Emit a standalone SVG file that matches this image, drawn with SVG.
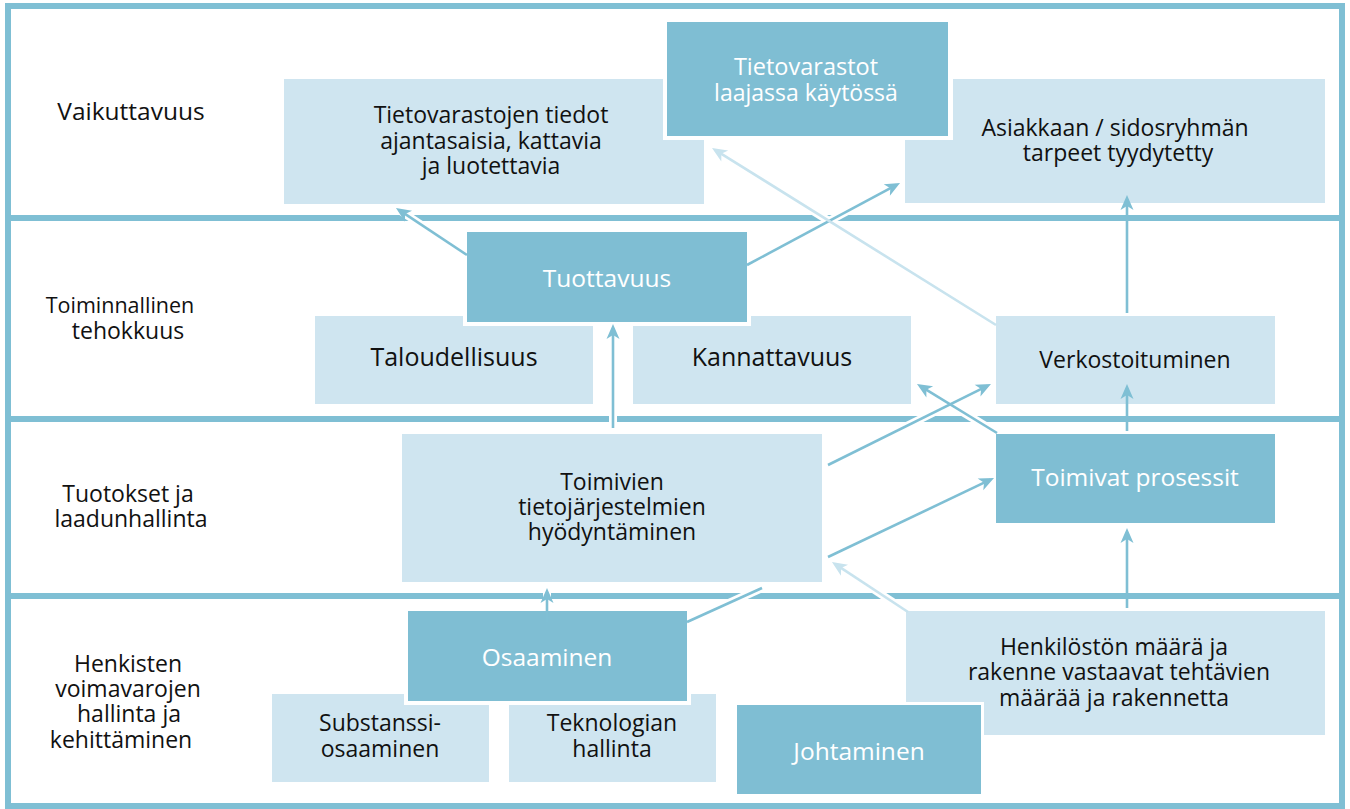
<svg xmlns="http://www.w3.org/2000/svg" width="1350" height="809" viewBox="0 0 1350 809">
<style>
.frame{fill:none;stroke:#7fbfd4;stroke-width:6}
.div{fill:#7fbfd4}
.light{fill:#cfe5f0}
.dark{fill:#7fbed3}
.halo-b{fill:#ffffff}
.t{font-family:"Open Sans","Noto Sans",sans-serif;font-size:23px;fill:#111111;text-anchor:middle}
.w{fill:#ffffff;font-size:24.5px}
.big{font-size:25px}
.halo{stroke:#ffffff;stroke-width:8;fill:none}
.ln{stroke:#7fbfd4;stroke-width:2.6;fill:none}
.lnl{stroke:#c8e3ee;stroke-width:2.6;fill:none}
</style>
<defs>
<marker id="ah" markerUnits="userSpaceOnUse" viewBox="-13 -8 18 16" refX="0" refY="0" markerWidth="18" markerHeight="16" orient="auto">
<path d="M4,0 L-11,-6.5 L-7,0 L-11,6.5 Z" fill="#7fbfd4"/>
</marker>
<marker id="ahl" markerUnits="userSpaceOnUse" viewBox="-13 -8 18 16" refX="0" refY="0" markerWidth="18" markerHeight="16" orient="auto">
<path d="M4,0 L-11,-6.5 L-7,0 L-11,6.5 Z" fill="#c8e3ee"/>
</marker>
</defs>
<rect width="1350" height="809" fill="#ffffff"/>
<g id="frame">
<rect class="frame" x="8" y="6" width="1334" height="800"/>
<rect class="div" x="8" y="215" width="1334" height="6"/>
<rect class="div" x="8" y="416" width="1334" height="6"/>
<rect class="div" x="8" y="593" width="1334" height="6"/>
</g>
<g id="halos">
<line class="halo" x1="467" y1="255" x2="399" y2="210"/>
<line class="halo" x1="747" y1="265" x2="896" y2="185"/>
<line class="halo" x1="996" y1="325" x2="715" y2="150"/>
<line class="halo" x1="613" y1="428" x2="613" y2="328"/>
<line class="halo" x1="828" y1="465" x2="987" y2="386"/>
<line class="halo" x1="997" y1="433" x2="920" y2="386"/>
<line class="halo" x1="828" y1="557" x2="990" y2="480"/>
<line class="halo" x1="908" y1="612" x2="835" y2="564"/>
<line class="halo" x1="687" y1="622" x2="762" y2="588"/>
<line class="halo" x1="547" y1="622" x2="547" y2="592"/>
</g>
<g id="lanes">
<text class="t" x="131" y="120" style="font-size:24.5px">Vaikuttavuus</text>
<text class="t" x="120" y="313" style="font-size:21.5px">Toiminnallinen</text>
<text class="t" x="128" y="339">tehokkuus</text>
<text class="t" x="128" y="502">Tuotokset ja</text>
<text class="t" x="131" y="527">laadunhallinta</text>
<text class="t" x="128" y="672">Henkisten</text>
<text class="t" x="128" y="697">voimavarojen</text>
<text class="t" x="129" y="722">hallinta ja</text>
<text class="t" x="121" y="748">kehittäminen</text>
</g>
<g id="n-tietovarastojen">
<rect class="light" x="284" y="79" width="420" height="125"/>
<text class="t" x="491" y="123">Tietovarastojen tiedot</text>
<text class="t" x="491" y="149">ajantasaisia, kattavia</text>
<text class="t" x="491" y="174">ja luotettavia</text>
</g>
<g id="n-asiakkaan">
<rect class="light" x="905" y="79" width="420" height="124"/>
<text class="t" x="1115" y="136">Asiakkaan / sidosryhmän</text>
<text class="t" x="1118" y="161">tarpeet tyydytetty</text>
</g>
<g id="n-tietovarastot">
<rect class="halo-b" x="663" y="18" width="290" height="122"/>
<rect class="dark" x="667" y="22" width="281" height="114"/>
<text class="t w" x="806" y="75" style="font-size:23.5px">Tietovarastot</text>
<text class="t w" x="806" y="101" style="font-size:23px">laajassa käytössä</text>
</g>
<g id="n-taloudellisuus">
<rect class="light" x="315" y="316" width="278" height="88"/>
<text class="t big" x="454" y="366">Taloudellisuus</text>
</g>
<g id="n-kannattavuus">
<rect class="light" x="633" y="316" width="278" height="88"/>
<text class="t big" x="772" y="366">Kannattavuus</text>
</g>
<g id="n-tuottavuus">
<rect class="halo-b" x="463" y="228" width="288" height="98"/>
<rect class="dark" x="467" y="232" width="280" height="90"/>
<text class="t w" x="607" y="287">Tuottavuus</text>
</g>
<g id="n-verkostoituminen">
<rect class="light" x="996" y="316" width="279" height="88"/>
<text class="t" x="1135" y="368">Verkostoituminen</text>
</g>
<g id="n-toimivien">
<rect class="light" x="402" y="434" width="420" height="148"/>
<text class="t" x="612" y="490">Toimivien</text>
<text class="t" x="612" y="515">tietojärjestelmien</text>
<text class="t" x="612" y="540">hyödyntäminen</text>
</g>
<g id="n-toimivat">
<rect class="dark" x="996" y="434" width="279" height="89"/>
<text class="t w" x="1135" y="486">Toimivat prosessit</text>
</g>
<g id="n-substanssi">
<rect class="light" x="272" y="694" width="217" height="88"/>
<text class="t" x="380" y="731">Substanssi-</text>
<text class="t" x="380" y="757">osaaminen</text>
</g>
<g id="n-teknologian">
<rect class="light" x="509" y="694" width="207" height="88"/>
<text class="t" x="612" y="731">Teknologian</text>
<text class="t" x="612" y="757">hallinta</text>
</g>
<g id="n-osaaminen">
<rect class="halo-b" x="404" y="607" width="287" height="98"/>
<rect class="dark" x="408" y="611" width="279" height="90"/>
<text class="t w" x="547" y="666">Osaaminen</text>
</g>
<g id="n-henkiloston">
<rect class="light" x="906" y="611" width="419" height="124"/>
<text class="t" x="1114" y="655">Henkilöstön määrä ja</text>
<text class="t" x="1119" y="680">rakenne vastaavat tehtävien</text>
<text class="t" x="1114" y="706">määrää ja rakennetta</text>
</g>
<g id="n-johtaminen">
<rect class="halo-b" x="734" y="702" width="250" height="95"/>
<rect class="dark" x="737" y="705" width="244" height="89"/>
<text class="t w" x="859" y="760">Johtaminen</text>
</g>
<g id="connectors">
<line class="ln" x1="467" y1="255" x2="399.3" y2="210.2" marker-end="url(#ah)"/>
<line class="ln" x1="747" y1="265" x2="896.5" y2="184.9" marker-end="url(#ah)"/>
<line class="lnl" x1="996" y1="325" x2="715.4" y2="150.1" marker-end="url(#ahl)"/>
<line class="ln" x1="613" y1="428" x2="613" y2="328" marker-end="url(#ah)"/>
<line class="ln" x1="1127" y1="313" x2="1127" y2="199" marker-end="url(#ah)"/>
<line class="ln" x1="1127" y1="431" x2="1127" y2="388" marker-end="url(#ah)"/>
<line class="ln" x1="828" y1="465" x2="987.4" y2="385.8" marker-end="url(#ah)"/>
<line class="ln" x1="997" y1="433" x2="920.4" y2="386.1" marker-end="url(#ah)"/>
<line class="ln" x1="828" y1="557" x2="990.4" y2="479.7" marker-end="url(#ah)"/>
<line class="lnl" x1="908" y1="612" x2="835.3" y2="564.2" marker-end="url(#ahl)"/>
<line class="ln" x1="687" y1="622" x2="762" y2="588"/>
<line class="ln" x1="547" y1="622" x2="547" y2="592" marker-end="url(#ah)"/>
<line class="ln" x1="1127" y1="608" x2="1127" y2="532" marker-end="url(#ah)"/>
</g>
</svg>
